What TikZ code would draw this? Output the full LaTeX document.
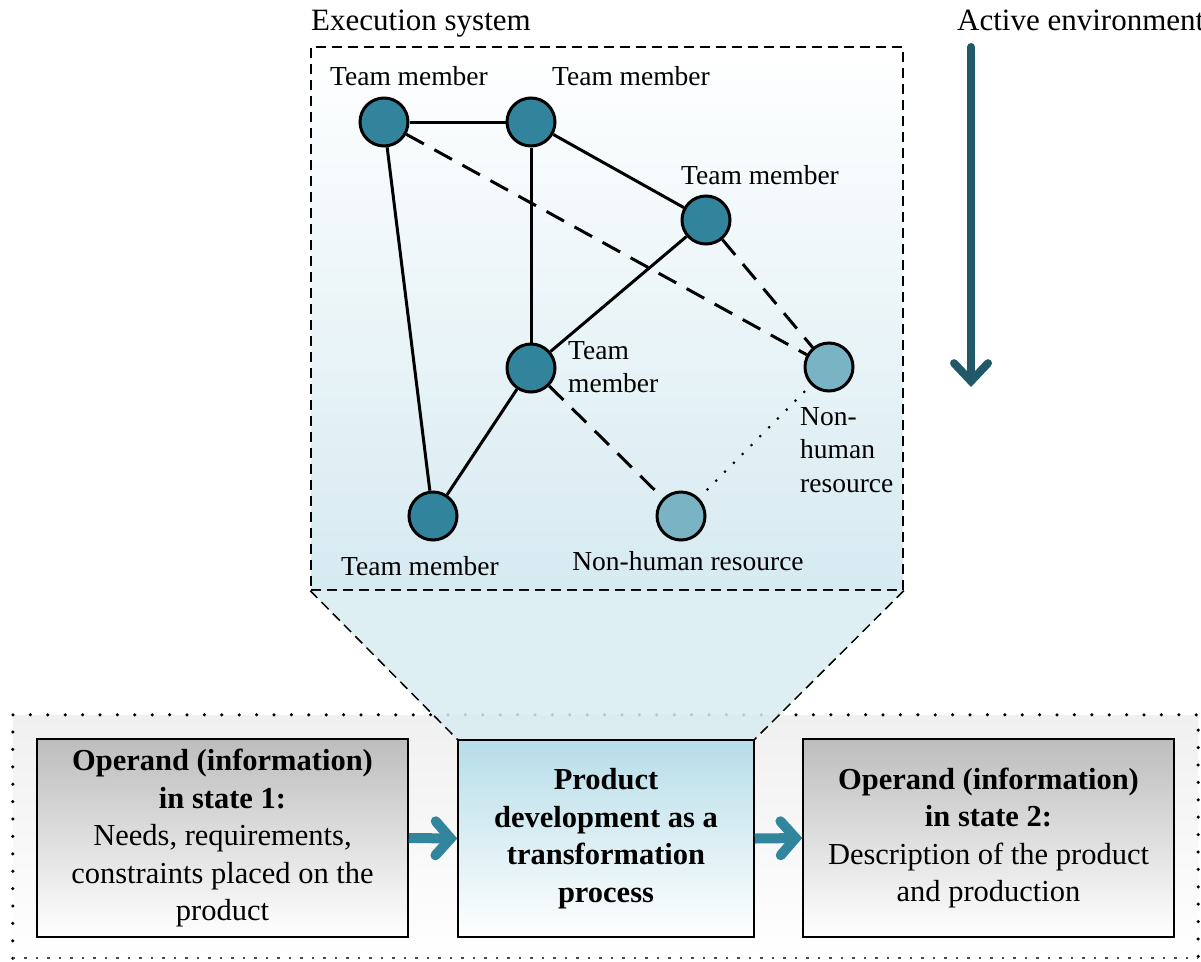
\documentclass[tikz,border=0pt]{standalone}
\usepackage{fontspec}
\setmainfont{Liberation Serif}
\usetikzlibrary{arrows.meta}
\definecolor{tmfill}{HTML}{31849B}
\definecolor{nhfill}{HTML}{7AB3C3}
\definecolor{arrowteal}{HTML}{31859C}
\definecolor{darkteal}{HTML}{215968}
\definecolor{execblue}{HTML}{D6EAF1}
\definecolor{trapblue}{HTML}{D8ECF2}
\definecolor{midblue}{HTML}{B7DDE8}
\definecolor{boxgrey}{HTML}{BDBDBD}
\definecolor{outergrey}{HTML}{F0F0F0}
\tikzset{
  tm/.style={circle, draw=black, line width=3pt, fill=tmfill, minimum size=48pt, inner sep=0pt},
  nh/.style={circle, draw=black, line width=3pt, fill=nhfill, minimum size=48pt, inner sep=0pt},
  lab/.style={inner sep=0pt, font=\fontsize{27.5}{33.5}\selectfont},
  ttl/.style={inner sep=0pt, font=\fontsize{31}{37}\selectfont},
  solidedge/.style={line width=3pt},
  dashedge/.style={line width=3pt, dash pattern=on 20pt off 12pt},
  dotedge/.style={line width=3pt, line cap=round, dash pattern=on 0pt off 12.5pt},
  greybox/.style={draw=black, line width=1.5pt, top color=boxgrey, bottom color=white,
     minimum width=371pt, minimum height=198pt, align=center, inner sep=0pt,
     font=\fontsize{30.5}{37.5}\selectfont},
  bluebox/.style={draw=black, line width=1.5pt, top color=midblue, bottom color=white,
     minimum width=296pt, minimum height=197pt, align=center, inner sep=0pt,
     font=\fontsize{30.5}{37.5}\selectfont},
  flowarrow/.style={line width=10pt, arrowteal, -{Straight Barb[length=15pt, width=34pt, line cap=round]}},
  envarrow/.style={line width=8pt, darkteal, line cap=round, -{Straight Barb[length=18pt, width=34pt, line cap=round]}},
}
\begin{document}
\begin{tikzpicture}[x=1pt, y=-1pt]
\useasboundingbox (0,0) rectangle (1201,961);
% outer dotted region
\node[minimum width=1185pt, minimum height=243pt, inner sep=0pt, top color=outergrey, bottom color=white] (outer) at (605.5,836.5) {};
\draw[line width=3.5pt, line cap=round, dash pattern=on 0pt off 17.4pt] (outer.south west) -- (outer.north west) -- (outer.north east) -- (outer.south east);
\draw[line width=1.5pt, dash pattern=on 2.5pt off 9pt, black!70] (outer.south west) -- (outer.south east);
% execution system
\node[draw=black, line width=1.5pt, dash pattern=on 10pt off 6pt, minimum width=592pt, minimum height=543pt, inner sep=0pt, top color=white, bottom color=execblue] (exec) at (607,318.5) {};
\node[ttl, anchor=base west] (exectitle) at (311,30) {Execution system};
% boxes
\node[greybox] (op1) at (222.5,838) {\textbf{Operand (information)}\\\textbf{in state 1:}\\Needs, requirements,\\constraints placed on the\\product};
\node[bluebox] (pd) at (606,838.5) {\textbf{Product}\\\textbf{development as a}\\\textbf{transformation}\\\textbf{process}};
\node[greybox] (op2) at (988.5,838) {\textbf{Operand (information)}\\\textbf{in state 2:}\\Description of the product\\and production};
% funnel
\fill[trapblue, opacity=0.85] (exec.south west) -- (exec.south east) -- (pd.north east) -- (pd.north west) -- cycle;
\draw[line width=1.5pt, dash pattern=on 10pt off 6pt] (exec.south west) -- (pd.north west);
\draw[line width=1.5pt, dash pattern=on 10pt off 6pt] (exec.south east) -- (pd.north east);
\draw[line width=1.5pt] (pd.north west) -- (pd.north east);
% flow arrows
\draw[flowarrow] (op1.east) -- (pd.west);
\draw[flowarrow] (pd.east) -- (op2.west);
% active environment
\node[ttl, anchor=base west] (envtitle) at (957,30) {Active environment};
\coordinate (envtop) at (971,47);
\coordinate (envbot) at (971,387);
\draw[envarrow] (envtop) -- (envbot);
% network nodes
\node[tm] (t1) at (384,122) {};
\node[tm] (t2) at (531,122) {};
\node[tm] (t3) at (706,220) {};
\node[tm] (t4) at (531,368) {};
\node[tm] (t5) at (433,516) {};
\node[nh] (n1) at (829,367) {};
\node[nh] (n2) at (681,516) {};
% edges
\draw[solidedge] (t1) -- (t2);
\draw[solidedge] (t1) -- (t5);
\draw[solidedge] (t2) -- (t4);
\draw[solidedge] (t2) -- (t3);
\draw[solidedge] (t3) -- (t4);
\draw[solidedge] (t4) -- (t5);
\draw[dashedge] (t1) -- (n1);
\draw[dashedge] (t3) -- (n1);
\draw[dashedge] (t4) -- (n2);
\draw[dotedge, shorten <=12pt, shorten >=8pt] (n2) -- (n1);
% labels
\node[lab, anchor=base] (l1) at (409,85) {Team member};
\node[lab, anchor=base] (l2) at (631,85) {Team member};
\node[lab, anchor=base] (l3) at (760,184) {Team member};
\node[lab, anchor=west, align=left] (l4) at (568,367) {Team\\member};
\node[lab, anchor=base] (l5) at (420,575) {Team member};
\node[lab, anchor=west, align=left] (l6) at (800,450) {Non-\\human\\resource};
\node[lab, anchor=base] (l7) at (688,570) {Non-human resource};
\end{tikzpicture}
\end{document}
